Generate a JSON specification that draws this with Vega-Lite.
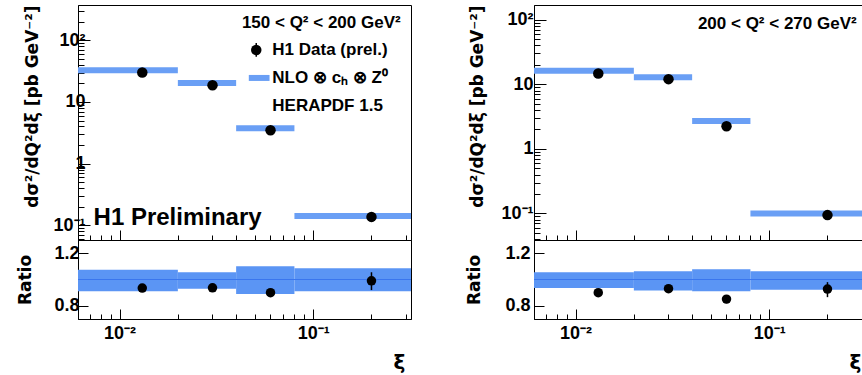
{
 "$schema": "https://vega.github.io/schema/vega-lite/v6.json",
 "padding": {"left": 16, "top": 4, "right": 0, "bottom": 0},
 "background": "white",
 "columns": 2,
 "spacing": {"row": 0, "column": 123},
 "bounds": "flush",
 "config": {
  "font": "Liberation Sans",
  "view": {"stroke": "black", "strokeWidth": 1},
  "axis": {"labelFont": "Liberation Sans", "labelFontWeight": "bold", "labelFontSize": 18, "labelColor": "black", "titleFont": "DejaVu Sans", "titleFontWeight": "bold", "titleFontSize": 17, "titleColor": "black", "domainColor": "black", "tickColor": "black", "grid": false}
 },
 "datasets": {
  "thL": [
   {"xlo": 0.0061, "xhi": 0.02, "pred": 32.5, "rlo": 0.91, "rhi": 1.075},
   {"xlo": 0.02, "xhi": 0.04, "pred": 20.3, "rlo": 0.93, "rhi": 1.055},
   {"xlo": 0.04, "xhi": 0.08, "pred": 3.75, "rlo": 0.89, "rhi": 1.10},
   {"xlo": 0.08, "xhi": 0.32, "pred": 0.142, "rlo": 0.91, "rhi": 1.085}
  ],
  "thR": [
   {"xlo": 0.0061, "xhi": 0.02, "pred": 16.2, "rlo": 0.935, "rhi": 1.055},
   {"xlo": 0.02, "xhi": 0.04, "pred": 12.9, "rlo": 0.917, "rhi": 1.063},
   {"xlo": 0.04, "xhi": 0.08, "pred": 2.69, "rlo": 0.91, "rhi": 1.078},
   {"xlo": 0.08, "xhi": 0.32, "pred": 0.1, "rlo": 0.922, "rhi": 1.063}
  ],
  "ptL": [
   {"x": 0.0131, "val": 30, "ratio": 0.935, "elo": 0.915, "ehi": 0.955},
   {"x": 0.0302, "val": 18.7, "ratio": 0.937, "elo": 0.917, "ehi": 0.957},
   {"x": 0.0602, "val": 3.47, "ratio": 0.90, "elo": 0.875, "ehi": 0.925},
   {"x": 0.2, "val": 0.137, "ratio": 0.99, "elo": 0.92, "ehi": 1.055}
  ],
  "ptR": [
   {"x": 0.0131, "val": 14.7, "ratio": 0.90, "elo": 0.885, "ehi": 0.915},
   {"x": 0.0302, "val": 12.0, "ratio": 0.93, "elo": 0.905, "ehi": 0.955},
   {"x": 0.0602, "val": 2.24, "ratio": 0.851, "elo": 0.82, "ehi": 0.88},
   {"x": 0.2, "val": 0.094, "ratio": 0.927, "elo": 0.866, "ehi": 0.98}
  ]
 },
 "concat": [
  {
   "width": 333, "height": 235,
   "layer": [
    {"data": {"name": "thL"}, "mark": {"type": "rule", "strokeWidth": 6, "color": "#6a9ff5"},
     "encoding": {
      "x": {"field": "xlo", "type": "quantitative", "scale": {"type": "log", "domain": [0.0061, 0.32], "nice": false},
       "axis": {"values": [0.007,0.008,0.009,0.01,0.02,0.03,0.04,0.05,0.06,0.07,0.08,0.09,0.1,0.2,0.3], "labels": false, "title": null,
        "tickSize": {"condition": {"test": "datum.value==0.01||datum.value==0.1", "value": -10}, "value": -5}}},
      "x2": {"field": "xhi"},
      "y": {"field": "pred", "type": "quantitative", "scale": {"type": "log", "domain": [0.0578, 373], "nice": false},
       "axis": {"values": [0.06,0.07,0.08,0.09,0.1,0.2,0.3,0.4,0.5,0.6,0.7,0.8,0.9,1,2,3,4,5,6,7,8,9,10,20,30,40,50,60,70,80,90,100,200,300],
        "labelExpr": "datum.value==100?'10²':datum.value==10?'10':datum.value==1?'1':datum.value==0.1?'10⁻¹':''",
        "tickSize": {"condition": {"test": "datum.value==0.1||datum.value==1||datum.value==10||datum.value==100", "value": -12}, "value": -6},
        "labelPadding": 5, "title": "dσ²/dQ²dξ [pb GeV⁻²]", "titleAnchor": "end", "titlePadding": 11}}
     }},
    {"data": {"name": "ptL"}, "mark": {"type": "point", "filled": true, "color": "black", "size": 110, "opacity": 1},
     "encoding": {"x": {"field": "x", "type": "quantitative"}, "y": {"field": "val", "type": "quantitative"}}},
    {"data": {"values": [{"t": "150 < Q² < 200 GeV²"}]}, "mark": {"type": "text", "align": "right", "baseline": "middle", "fontSize": 17, "fontWeight": "bold", "color": "black"},
     "encoding": {"text": {"field": "t"}, "x": {"datum": 0.283}, "y": {"datum": 190}}},
    {"data": {"values": [{"k": 1}]}, "mark": {"type": "rule", "color": "black", "strokeWidth": 1.5},
     "encoding": {"x": {"datum": 0.0508}, "y": {"datum": 54}, "y2": {"datum": 90}}},
    {"data": {"values": [{"k": 1}]}, "mark": {"type": "point", "filled": true, "color": "black", "size": 110, "opacity": 1},
     "encoding": {"x": {"datum": 0.0508}, "y": {"datum": 69.6}}},
    {"data": {"values": [{"k": 1}]}, "mark": {"type": "rule", "strokeWidth": 6, "color": "#6a9ff5"},
     "encoding": {"x": {"datum": 0.0465}, "x2": {"datum": 0.0595}, "y": {"datum": 24.5}}},
    {"data": {"values": [{"t": "H1 Data (prel.)", "p": 69.6}, {"t": "NLO ⊗ cₕ ⊗ Z⁰", "p": 24.5}, {"t": "HERAPDF 1.5", "p": 8.6}]},
     "mark": {"type": "text", "align": "left", "baseline": "middle", "fontSize": 17, "fontWeight": "bold", "color": "black"},
     "encoding": {"text": {"field": "t"}, "x": {"datum": 0.0615}, "y": {"field": "p", "type": "quantitative"}}},
    {"data": {"values": [{"t": "H1 Preliminary"}]}, "mark": {"type": "text", "align": "left", "baseline": "middle", "fontSize": 24, "fontWeight": "bold", "color": "black"},
     "encoding": {"text": {"field": "t"}, "x": {"datum": 0.00734}, "y": {"datum": 0.131}}}
   ]
  },
  {
   "width": 333, "height": 235,
   "layer": [
    {"data": {"name": "thR"}, "mark": {"type": "rule", "strokeWidth": 6, "color": "#6a9ff5"},
     "encoding": {
      "x": {"field": "xlo", "type": "quantitative", "scale": {"type": "log", "domain": [0.0061, 0.32], "nice": false},
       "axis": {"values": [0.007,0.008,0.009,0.01,0.02,0.03,0.04,0.05,0.06,0.07,0.08,0.09,0.1,0.2,0.3], "labels": false, "title": null,
        "tickSize": {"condition": {"test": "datum.value==0.01||datum.value==0.1", "value": -10}, "value": -5}}},
      "x2": {"field": "xhi"},
      "y": {"field": "pred", "type": "quantitative", "scale": {"type": "log", "domain": [0.0387, 169], "nice": false},
       "axis": {"values": [0.04,0.05,0.06,0.07,0.08,0.09,0.1,0.2,0.3,0.4,0.5,0.6,0.7,0.8,0.9,1,2,3,4,5,6,7,8,9,10,20,30,40,50,60,70,80,90,100],
        "labelExpr": "datum.value==100?'10²':datum.value==10?'10':datum.value==1?'1':datum.value==0.1?'10⁻¹':''",
        "tickSize": {"condition": {"test": "datum.value==0.1||datum.value==1||datum.value==10||datum.value==100", "value": -12}, "value": -6},
        "labelPadding": 13, "title": "dσ²/dQ²dξ [pb GeV⁻²]", "titleAnchor": "end", "titlePadding": 14}}
     }},
    {"data": {"name": "ptR"}, "mark": {"type": "point", "filled": true, "color": "black", "size": 110, "opacity": 1},
     "encoding": {"x": {"field": "x", "type": "quantitative"}, "y": {"field": "val", "type": "quantitative"}}},
    {"data": {"values": [{"t": "200 < Q² < 270 GeV²"}]}, "mark": {"type": "text", "align": "right", "baseline": "middle", "fontSize": 17, "fontWeight": "bold", "color": "black"},
     "encoding": {"text": {"field": "t"}, "x": {"datum": 0.283}, "y": {"datum": 86.7}}}
   ]
  },
  {
   "width": 333, "height": 79,
   "layer": [
    {"data": {"name": "thL"}, "mark": {"type": "rect", "color": "#5b95f4"},
     "encoding": {
      "x": {"field": "xlo", "type": "quantitative", "scale": {"type": "log", "domain": [0.0061, 0.32], "nice": false},
       "axis": {"values": [0.007,0.008,0.009,0.01,0.02,0.03,0.04,0.05,0.06,0.07,0.08,0.09,0.1,0.2,0.3],
        "labelExpr": "datum.value==0.01?'10⁻²':datum.value==0.1?'10⁻¹':''",
        "tickSize": {"condition": {"test": "datum.value==0.01||datum.value==0.1", "value": -10}, "value": -5},
        "labelPadding": 15, "title": "ξ", "titleFontSize": 20, "titleX": 321, "titleY": 43, "titleAlign": "center", "titleBaseline": "middle"}},
      "x2": {"field": "xhi"},
      "y": {"field": "rlo", "type": "quantitative", "scale": {"domain": [0.7, 1.3], "nice": false, "zero": false},
       "axis": {"values": [0.8, 0.9, 1, 1.1, 1.2],
        "labelExpr": "datum.value==0.8?'0.8':datum.value==1?'1':datum.value==1.2?'1.2':''",
        "tickSize": {"condition": {"test": "datum.value==0.8||datum.value==1||datum.value==1.2", "value": -10}, "value": -5},
        "labelPadding": 9, "title": "Ratio", "titlePadding": 19}},
      "y2": {"field": "rhi"}
     }},
    {"data": {"values": [{"k": 1}]}, "mark": {"type": "rule", "color": "#3a76ee", "strokeWidth": 1.2},
     "encoding": {"y": {"datum": 1}}},
    {"data": {"name": "ptL"}, "mark": {"type": "rule", "color": "black", "strokeWidth": 1.5},
     "encoding": {"x": {"field": "x", "type": "quantitative"}, "y": {"field": "elo", "type": "quantitative"}, "y2": {"field": "ehi"}}},
    {"data": {"name": "ptL"}, "mark": {"type": "point", "filled": true, "color": "black", "size": 90, "opacity": 1},
     "encoding": {"x": {"field": "x", "type": "quantitative"}, "y": {"field": "ratio", "type": "quantitative"}}}
   ]
  },
  {
   "width": 333, "height": 79,
   "layer": [
    {"data": {"name": "thR"}, "mark": {"type": "rect", "color": "#5b95f4"},
     "encoding": {
      "x": {"field": "xlo", "type": "quantitative", "scale": {"type": "log", "domain": [0.0061, 0.32], "nice": false},
       "axis": {"values": [0.007,0.008,0.009,0.01,0.02,0.03,0.04,0.05,0.06,0.07,0.08,0.09,0.1,0.2,0.3],
        "labelExpr": "datum.value==0.01?'10⁻²':datum.value==0.1?'10⁻¹':''",
        "tickSize": {"condition": {"test": "datum.value==0.01||datum.value==0.1", "value": -10}, "value": -5},
        "labelPadding": 15, "title": "ξ", "titleFontSize": 20, "titleX": 321, "titleY": 43, "titleAlign": "center", "titleBaseline": "middle"}},
      "x2": {"field": "xhi"},
      "y": {"field": "rlo", "type": "quantitative", "scale": {"domain": [0.7, 1.3], "nice": false, "zero": false},
       "axis": {"values": [0.8, 0.9, 1, 1.1, 1.2],
        "labelExpr": "datum.value==0.8?'0.8':datum.value==1?'1':datum.value==1.2?'1.2':''",
        "tickSize": {"condition": {"test": "datum.value==0.8||datum.value==1||datum.value==1.2", "value": -10}, "value": -5},
        "labelPadding": 14, "title": "Ratio", "titlePadding": 21}},
      "y2": {"field": "rhi"}
     }},
    {"data": {"values": [{"k": 1}]}, "mark": {"type": "rule", "color": "#3a76ee", "strokeWidth": 1.2},
     "encoding": {"y": {"datum": 1}}},
    {"data": {"name": "ptR"}, "mark": {"type": "rule", "color": "black", "strokeWidth": 1.5},
     "encoding": {"x": {"field": "x", "type": "quantitative"}, "y": {"field": "elo", "type": "quantitative"}, "y2": {"field": "ehi"}}},
    {"data": {"name": "ptR"}, "mark": {"type": "point", "filled": true, "color": "black", "size": 90, "opacity": 1},
     "encoding": {"x": {"field": "x", "type": "quantitative"}, "y": {"field": "ratio", "type": "quantitative"}}}
   ]
  }
 ]
}
